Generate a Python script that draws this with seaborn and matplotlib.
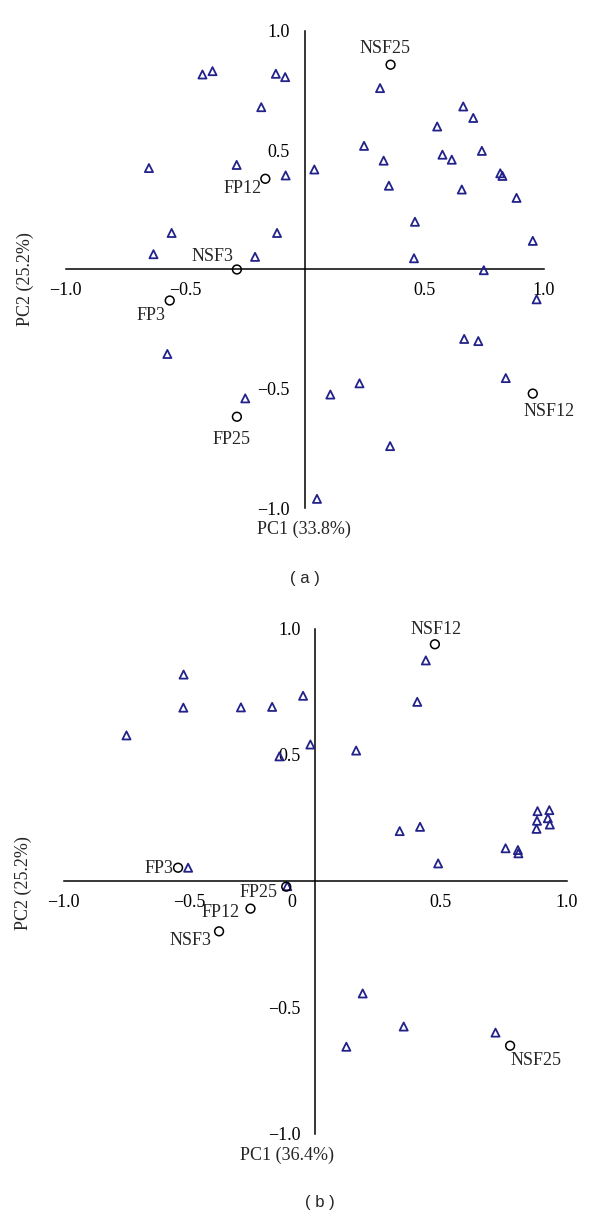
import matplotlib
matplotlib.use("Agg")
import matplotlib.pyplot as plt
import matplotlib.transforms as mtransforms
import numpy as np
import pandas as pd
import seaborn as sns

# ---------------- data: panel (a) ----------------
a_var_x = [-0.427, -0.385, -0.120, -0.081, -0.181, -0.651, -0.284, -0.079, 0.041,
           -0.556, -0.115, -0.632, -0.207,
           0.316, 0.664, 0.706, 0.555, 0.249, 0.742, 0.577, 0.616, 0.331, 0.819,
           0.828, 0.353, 0.658, 0.887, 0.462, 0.955, 0.458, 0.750,
           -0.574, -0.248, 0.052,
           0.971, 0.668, 0.727, 0.842, 0.230, 0.108, 0.358]
a_var_y = [0.817, 0.831, 0.820, 0.806, 0.680, 0.425, 0.438, 0.394, 0.419,
           0.153, 0.153, 0.064, 0.053,
           0.760, 0.683, 0.635, 0.599, 0.518, 0.497, 0.481, 0.460, 0.456, 0.403,
           0.392, 0.351, 0.335, 0.300, 0.200, 0.120, 0.047, -0.003,
           -0.354, -0.540, -0.961,
           -0.125, -0.291, -0.300, -0.455, -0.477, -0.524, -0.740]
a_obs_labels = ["FP3", "FP12", "FP25", "NSF3", "NSF12", "NSF25"]
a_obs_x = [-0.564, -0.164, -0.283, -0.283, 0.955, 0.360]
a_obs_y = [-0.130, 0.380, -0.617, 0.000, -0.520, 0.858]
a_xlabel = "PC1 (33.8%)"
a_ylabel = "PC2 (25.2%)"

# ---------------- data: panel (b) ----------------
b_var_x = [-0.523, -0.524, -0.750, -0.295, -0.171, -0.048, -0.019, -0.142, -0.505,
           -0.111,
           0.440, 0.406, 0.163, 0.336, 0.417, 0.489, 0.757, 0.806, 0.808,
           0.884, 0.931, 0.882, 0.925, 0.880, 0.933,
           0.189, 0.352, 0.124, 0.717]
b_var_y = [0.818, 0.687, 0.577, 0.688, 0.690, 0.734, 0.541, 0.494, 0.053,
           -0.020,
           0.874, 0.710, 0.517, 0.198, 0.215, 0.070, 0.130, 0.123, 0.110,
           0.277, 0.281, 0.239, 0.249, 0.207, 0.224,
           -0.445, -0.576, -0.656, -0.600]
b_obs_labels = ["FP3", "FP12", "FP25", "NSF3", "NSF12", "NSF25"]
b_obs_x = [-0.545, -0.257, -0.115, -0.382, 0.476, 0.775]
b_obs_y = [0.053, -0.109, -0.022, -0.199, 0.938, -0.652]
b_xlabel = "PC1 (36.4%)"
b_ylabel = "PC2 (25.2%)"

tick_vals = [-1.0, -0.5, 0.5, 1.0]
tick_text = ["\u22121.0", "\u22120.5", "0.5", "1.0"]

# ---------------- style ----------------
sns.set_style("white")
plt.rcParams["font.family"] = ["Liberation Serif", "DejaVu Serif"]
plt.rcParams["axes.unicode_minus"] = True

TRI_COLOR = "#22228a"
FS = 13

fig = plt.figure(figsize=(6.0, 12.18), dpi=100)

# axes positions in figure fraction (left, bottom, width, height)
ax_a = fig.add_axes([0.1092, 0.5828, 0.7967, 0.3919])
ax_b = fig.add_axes([0.1060, 0.0693, 0.8385, 0.4146])

# label offsets (points) for observation labels
a_offsets = {"FP3": (-13.7, -10.6), "FP12": (-16.3, -7.0), "FP25": (-3.6, -16.1),
             "NSF3": (-17.6, 9.1), "NSF12": (11.5, -12.7), "NSF25": (-4.0, 11.7)}
b_offsets = {"FP3": (-14.0, -0.7), "FP12": (-21.8, -2.9), "FP25": (-19.9, -4.3),
             "NSF3": (-20.7, -6.5), "NSF12": (0.7, 10.3), "NSF25": (19.0, -10.3)}


def draw_panel(ax, vx, vy, olab, ox, oy, offsets, xlabel, ylabel, show_zero,
               xlab_pos, ylab_pos):
    var_df = pd.DataFrame({"x": vx, "y": vy})
    obs_df = pd.DataFrame({"x": ox, "y": oy, "label": olab})
    sns.scatterplot(data=var_df, x="x", y="y", ax=ax, marker="^", s=34,
                    facecolor="none", edgecolor=TRI_COLOR, linewidth=1.3,
                    color=TRI_COLOR, legend=False, zorder=3, clip_on=False)
    sns.scatterplot(data=obs_df, x="x", y="y", ax=ax, marker="o", s=40,
                    facecolor="none", edgecolor="black", linewidth=1.1,
                    color="black", legend=False, zorder=3, clip_on=False)
    for lab, x, y in zip(olab, ox, oy):
        ax.annotate(lab, (x, y), xytext=offsets[lab], textcoords="offset points",
                    ha="center", va="center", fontsize=FS)
    ax.set_xlim(-1.0, 1.0)
    ax.set_ylim(-1.0, 1.0)
    for s in ["top", "right"]:
        ax.spines[s].set_visible(False)
    ax.spines["left"].set_position(("data", 0))
    ax.spines["bottom"].set_position(("data", 0))
    for s in ["left", "bottom"]:
        ax.spines[s].set_color("black")
        ax.spines[s].set_linewidth(1.1)
    if show_zero:
        xt = [-1.0, -0.5, 0.0, 0.5, 1.0]
        xl = ["\u22121.0", "\u22120.5", "0", "0.5", "1.0"]
    else:
        xt, xl = tick_vals, tick_text
    ax.set_xticks(xt)
    ax.set_xticklabels(xl)
    ax.set_yticks(tick_vals)
    ax.set_yticklabels(tick_text)
    ax.tick_params(axis="x", direction="in", length=4.5, width=1.1, pad=9,
                   labelsize=FS, colors="black")
    ax.tick_params(axis="y", direction="out", length=5.5, width=1.1, pad=5,
                   labelsize=FS, colors="black")
    if show_zero:
        for t in ax.get_xticklabels():
            if t.get_text() == "0":
                t.set_transform(t.get_transform() + mtransforms.ScaledTranslation(
                    -0.235, 0, fig.dpi_scale_trans))
    ax.set_xlabel(xlabel, fontsize=FS)
    ax.set_ylabel(ylabel, fontsize=FS)
    ax.xaxis.set_label_coords(*xlab_pos)
    ax.yaxis.set_label_coords(*ylab_pos)
    ax.xaxis.label.set_va("center")
    ax.yaxis.label.set_va("center")
    ax.grid(False)


draw_panel(ax_a, a_var_x, a_var_y, a_obs_labels, a_obs_x, a_obs_y, a_offsets,
           a_xlabel, a_ylabel, False, (0.499, -0.045), (-0.085, 0.48))
draw_panel(ax_b, b_var_x, b_var_y, b_obs_labels, b_obs_x, b_obs_y, b_offsets,
           b_xlabel, b_ylabel, True, (0.445, -0.043), (-0.08, 0.497))

fig.text(305 / 600, 1 - 578 / 1218, "( a )", ha="center", va="center",
         fontsize=12, family=["Liberation Sans", "DejaVu Sans"])
fig.text(320 / 600, 1 - 1202 / 1218, "( b )", ha="center", va="center",
         fontsize=12, family=["Liberation Sans", "DejaVu Sans"])

fig.savefig("out.png", dpi=100, facecolor="white")
